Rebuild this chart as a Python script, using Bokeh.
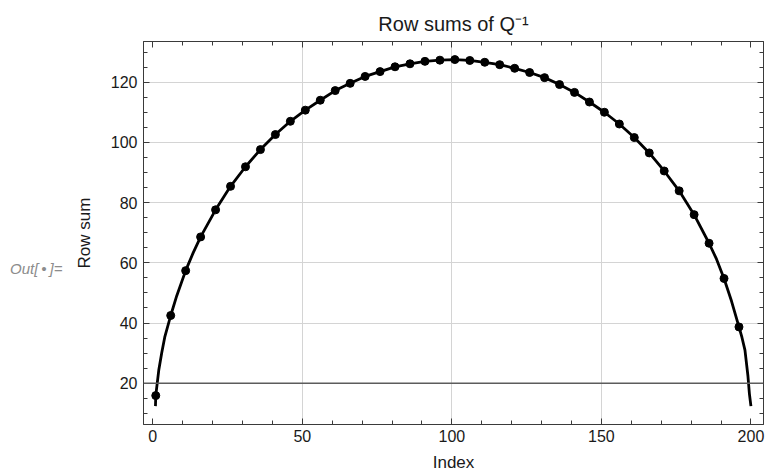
from bokeh.plotting import figure
from bokeh.models import (Range1d, SingleIntervalTicker, FixedTicker, LinearAxis, Span,
                          CustomJSTickFormatter)
from bokeh.embed import file_html
from bokeh.resources import INLINE

# ---- data ----
dot_x = [1, 6, 11, 16, 21, 26, 31, 36, 41, 46, 51, 56, 61, 66, 71, 76, 81, 86, 91, 96,
         101, 106, 111, 116, 121, 126, 131, 136, 141, 146, 151, 156, 161, 166, 171, 176,
         181, 186, 191, 196]
dot_y = [15.9, 42.5, 57.4, 68.6, 77.6, 85.4, 91.9, 97.6, 102.6, 107.0, 110.7, 114.0,
         117.2, 119.6, 121.9, 123.5, 125.1, 126.1, 126.9, 127.3, 127.5, 127.2, 126.6,
         125.8, 124.6, 123.2, 121.5, 119.2, 116.6, 113.4, 110.0, 106.1, 101.6, 96.5,
         90.5, 83.9, 76.0, 66.5, 54.8, 38.7]

line_x = [0.9, 1, 2, 3, 4, 6, 8, 11, 13.5, 16, 21, 26, 31, 36, 41, 46, 51, 56, 61, 66,
          71, 76, 81, 86, 91, 96, 101, 106, 111, 116, 121, 126, 131, 136, 141, 146, 151,
          156, 161, 166, 171, 176, 181, 186, 188.5, 191, 193.5, 196, 197, 198, 199, 199.5,
          200]
line_y = [12.4, 15.9, 24.3, 30.1, 35.3, 42.5, 49.0, 57.4, 63.3, 68.6, 77.6, 85.4, 91.9,
          97.6, 102.6, 107.0, 110.7, 114.0, 117.2, 119.6, 121.9, 123.5, 125.1, 126.1,
          126.9, 127.3, 127.5, 127.2, 126.6, 125.8, 124.6, 123.2, 121.5, 119.2, 116.6,
          113.4, 110.0, 106.1, 101.6, 96.5, 90.5, 83.9, 76.0, 66.5, 61.2, 54.8, 47.3,
          38.7, 35.2, 31.0, 22.4, 16.4, 12.4]

x_grid = [50, 100, 150]
axis_y_level = 20

title_text = "Row sums of Q\u207b\u00b9"
x_label = "Index"
y_label = "Row sum"
out_label = "Out[\u2009\u2022\u2009]="
out_label_y = 58.1

FONT = "Liberation Sans"
FRAME = "#3a3a3a"

p = figure(width=765, height=474,
           x_range=Range1d(-3.1, 204.2), y_range=Range1d(6.3, 133.5),
           output_backend="svg", toolbar_location=None,
           min_border_left=143, min_border_right=2, min_border_top=41, min_border_bottom=49)
p.background_fill_color = "white"
p.border_fill_color = "white"
p.outline_line_color = FRAME
p.outline_line_width = 1

p.title.text = title_text
p.title.align = "center"
p.title.vertical_align = "top"
p.title.text_font = FONT
p.title.text_font_size = "20px"
p.title.text_font_style = "normal"
p.title.text_color = "#1a1a1a"
p.title.standoff = 10

blank = CustomJSTickFormatter(code="return ''")


def style_axis(ax, ticker, show_labels):
    ax.ticker = ticker
    ax.major_tick_in = 6
    ax.major_tick_out = 0
    ax.minor_tick_in = 4
    ax.minor_tick_out = 0
    ax.axis_line_color = FRAME
    ax.major_tick_line_color = FRAME
    ax.minor_tick_line_color = FRAME
    ax.major_label_text_font = FONT
    ax.major_label_text_color = "#1a1a1a"
    ax.major_label_text_font_size = "16px"
    if not show_labels:
        ax.formatter = blank
        ax.major_label_standoff = 0


style_axis(p.xaxis[0], SingleIntervalTicker(interval=50, num_minor_ticks=5), True)
style_axis(p.yaxis[0], SingleIntervalTicker(interval=20, num_minor_ticks=4), True)
p.xaxis[0].major_label_standoff = 5
p.yaxis[0].major_label_standoff = 6

p.xaxis[0].axis_label = x_label
p.yaxis[0].axis_label = y_label
for ax in (p.xaxis[0], p.yaxis[0]):
    ax.axis_label_text_font = FONT
    ax.axis_label_text_font_size = "17px"
    ax.axis_label_text_font_style = "normal"
    ax.axis_label_text_color = "#1a1a1a"
p.xaxis[0].axis_label_standoff = 8
p.yaxis[0].axis_label_standoff = 14

top_ax = LinearAxis()
right_ax = LinearAxis()
style_axis(top_ax, SingleIntervalTicker(interval=50, num_minor_ticks=5), False)
style_axis(right_ax, SingleIntervalTicker(interval=20, num_minor_ticks=4), False)
p.add_layout(top_ax, "above")
p.add_layout(right_ax, "right")

# "Out[.]=" cell label, drawn as the single tick label of an extra outer axis
out_ax = LinearAxis(ticker=FixedTicker(ticks=[out_label_y], minor_ticks=[]),
                    formatter=CustomJSTickFormatter(args=dict(t=out_label), code="return t"))
out_ax.axis_line_color = None
out_ax.major_tick_line_color = None
out_ax.minor_tick_line_color = None
out_ax.major_tick_in = 0
out_ax.major_tick_out = 0
out_ax.minor_tick_in = 0
out_ax.minor_tick_out = 0
out_ax.major_label_standoff = 9
out_ax.major_label_text_font = FONT
out_ax.major_label_text_font_size = "15px"
out_ax.major_label_text_font_style = "italic"
out_ax.major_label_text_color = "#8c8c8c"
p.add_layout(out_ax, "left")

p.xgrid.ticker = FixedTicker(ticks=x_grid)
p.ygrid.ticker = SingleIntervalTicker(interval=20)
p.xgrid.grid_line_color = "#d4d4d4"
p.ygrid.grid_line_color = "#d4d4d4"

p.add_layout(Span(location=axis_y_level, dimension="width",
                  line_color="#5c5c5c", line_width=1.5))

p.line(line_x, line_y, line_width=2.8, line_color="black")
p.scatter(dot_x, dot_y, size=8, fill_color="black", line_color="black")

open("out.html", "w").write(file_html(p, INLINE))
